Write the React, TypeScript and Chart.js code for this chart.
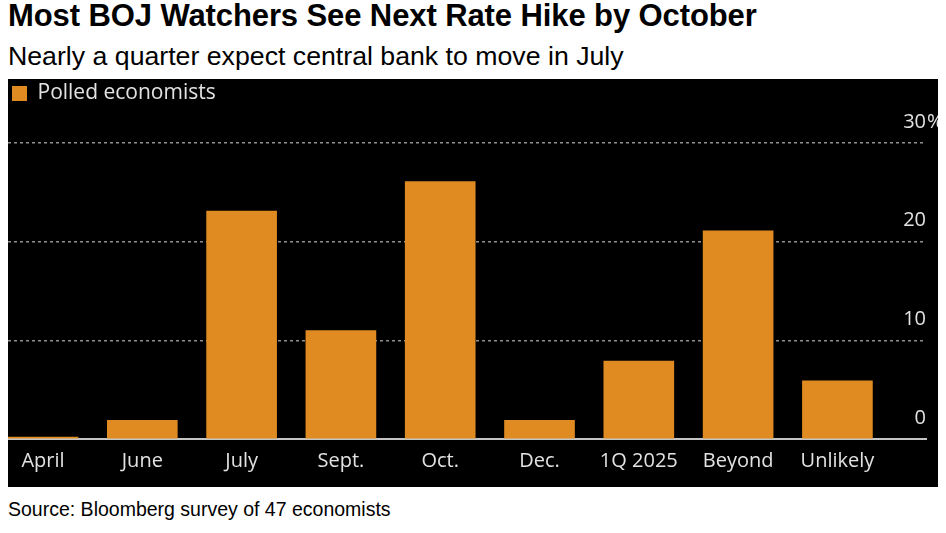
import React, { useEffect, useRef } from "react";
import { Chart, registerables } from "chart.js";

Chart.register(...registerables);

const categories = ["April", "June", "July", "Sept.", "Oct.", "Dec.", "1Q 2025", "Beyond", "Unlikely"];
const polledEconomists = [0, 1.9, 23.1, 11.0, 26.1, 1.9, 7.9, 21.1, 5.9];
const yTicks = [0, 10, 20, 30];

const TITLE = "Most BOJ Watchers See Next Rate Hike by October";
const SUBTITLE = "Nearly a quarter expect central bank to move in July";
const SOURCE = "Source: Bloomberg survey of 47 economists";
const SERIES = "Polled economists";

const ORANGE = "#E08B22";
const TEXT = "#e2e2e2";
const AXIS_FONT = "'Open Sans', 'DejaVu Sans', sans-serif";

export default function App() {
  const ref = useRef<HTMLCanvasElement>(null);

  useEffect(() => {
    if (!ref.current) return;

    const legendSpace = {
      id: "legendSpace",
      beforeLayout(chart: any) {
        const lg = chart.legend;
        if (lg && !lg.__patched) {
          const orig = lg.fit;
          lg.fit = function () {
            orig.call(this);
            this.height = 64;
          };
          lg.__patched = true;
        }
      },
    };

    const percentSign = {
      id: "percentSign",
      afterDraw(chart: any) {
        const y = chart.scales.y;
        const ctx = chart.ctx;
        const top = yTicks[yTicks.length - 1];
        ctx.save();
        ctx.font = `20px ${AXIS_FONT}`;
        ctx.fillStyle = TEXT;
        ctx.textAlign = "left";
        ctx.textBaseline = "middle";
        ctx.fillText("%", chart.chartArea.right + 1, y.getPixelForValue(top) - 21);
        ctx.restore();
      },
    };

    const chart = new Chart(ref.current, {
      type: "bar",
      data: {
        datasets: [
          {
            label: SERIES,
            data: polledEconomists.map((v, i) => ({ x: i, y: v })),
            backgroundColor: ORANGE,
            borderWidth: 0,
            barThickness: 70,
            minBarLength: 2,
          },
        ],
      },
      plugins: [legendSpace, percentSign],
      options: {
        animation: false,
        responsive: false,
        maintainAspectRatio: false,
        layout: { padding: { left: 0, right: 12, top: 0, bottom: 4 } },
        plugins: {
          legend: {
            display: true,
            position: "top",
            align: "start",
            labels: {
              color: TEXT,
              font: { family: AXIS_FONT, size: 21 },
              boxWidth: 15,
              boxHeight: 15,
              padding: 4,
            },
          },
          tooltip: { enabled: false },
        },
        scales: {
          x: {
            type: "linear",
            min: -0.3525,
            max: 8.892,
            offset: false,
            afterBuildTicks: (axis: any) => {
              axis.ticks = categories.map((_, i) => ({ value: i }));
            },
            ticks: {
              color: TEXT,
              font: { family: AXIS_FONT, size: 20 },
              callback: (v: any) => categories[v as number] ?? "",
              maxRotation: 0,
              autoSkip: false,
              padding: 10,
            },
            grid: { display: false, drawTicks: false },
            border: { display: true, color: "#c4c4c4", width: 2 },
          },
          y: {
            position: "right",
            min: 0,
            max: 30,
            afterBuildTicks: (axis: any) => {
              axis.ticks = yTicks.map((v) => ({ value: v }));
            },
            ticks: {
              mirror: true,
              color: TEXT,
              font: { family: AXIS_FONT, size: 20 },
              labelOffset: -21,
              padding: 0,
              callback: (v: any) => String(v),
            },
            grid: {
              drawTicks: false,
              color: (ctx: any) => (ctx.tick && ctx.tick.value === 0 ? "rgba(0,0,0,0)" : "#8f8f8f"),
              lineWidth: 1.5,
            },
            border: { display: false, dash: [3, 3] },
          },
        },
      },
    });
    return () => chart.destroy();
  }, []);

  return (
    <div style={{ position: "absolute", top: 0, left: 8, fontFamily: "'Liberation Sans', Arial, sans-serif" }}>
      <div style={{ fontWeight: "bold", fontSize: 31, lineHeight: "32px", color: "#000", letterSpacing: -0.1, whiteSpace: "nowrap" }}>{TITLE}</div>
      <div style={{ fontSize: 26.7, lineHeight: "45px", marginTop: 2, color: "#000", whiteSpace: "nowrap" }}>{SUBTITLE}</div>
      <div style={{ background: "#000", width: 930, height: 408 }}>
        <canvas ref={ref} width={930} height={408} style={{ display: "block" }} />
      </div>
      <div style={{ fontSize: 19.5, lineHeight: "44px", color: "#000", whiteSpace: "nowrap" }}>{SOURCE}</div>
    </div>
  );
}
